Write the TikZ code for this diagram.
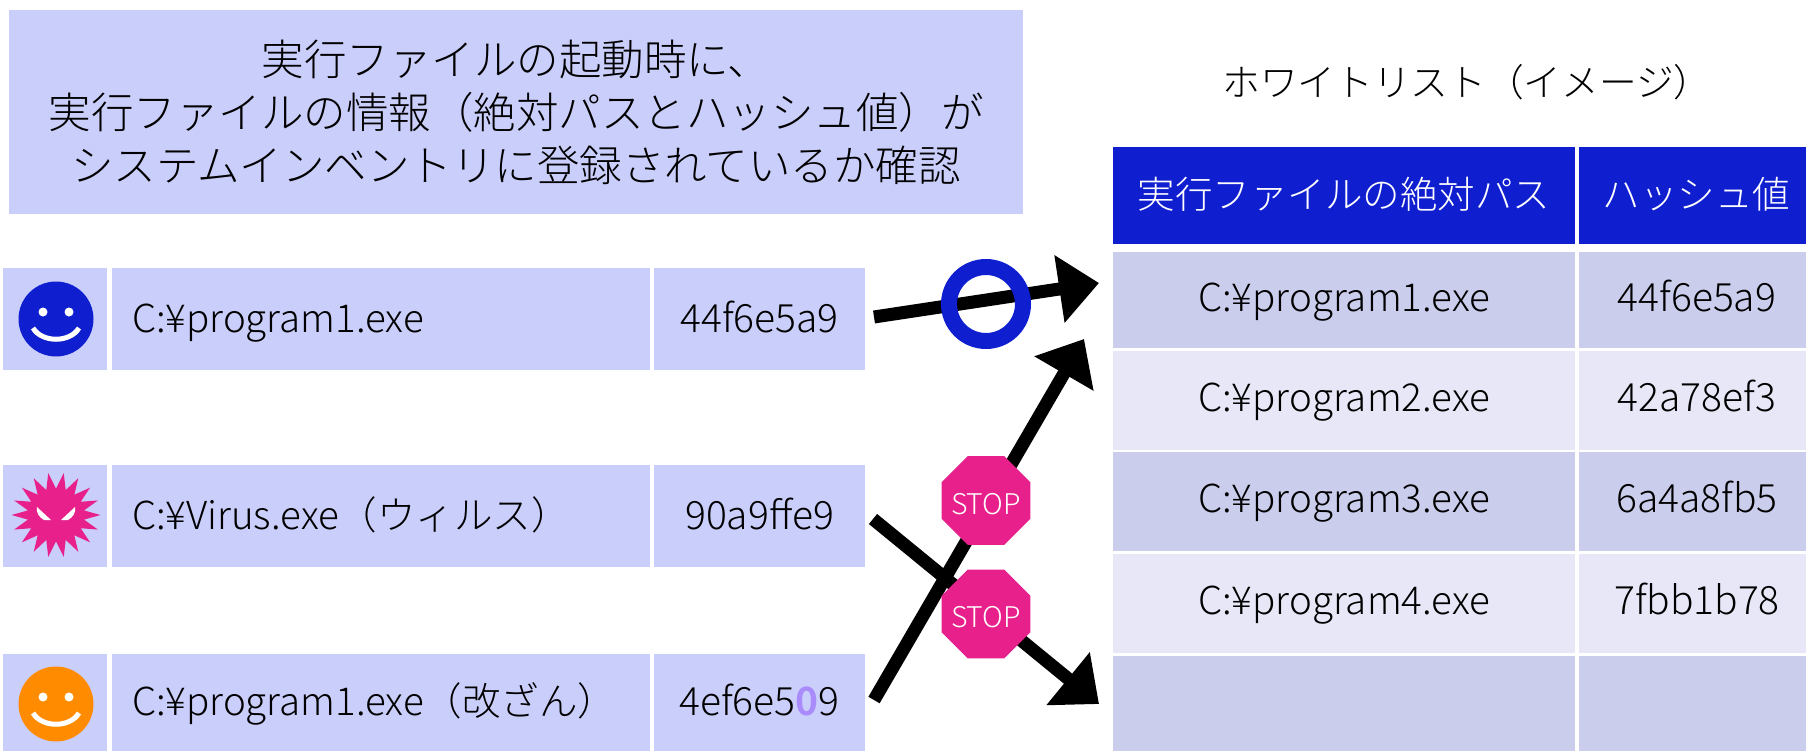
\documentclass[tikz,border=0pt]{standalone}
\usepackage{fontspec}
\setmainfont{Noto Sans CJK JP}[UprightFont=* Light,BoldFont=* Bold]
\usetikzlibrary{arrows.meta,shapes.geometric}
\definecolor{lightcell}{HTML}{CACEFA}
\definecolor{rowdark}{HTML}{CBCDEC}
\definecolor{rowlight}{HTML}{E7E7F7}
\definecolor{headblue}{HTML}{0F1FD0}
\definecolor{stoppink}{HTML}{E8208B}
\definecolor{faceorange}{HTML}{FF8C00}
\definecolor{altered}{HTML}{A98BFB}
\tikzset{
  x=1pt,y=-1pt,
  cellbox/.style={anchor=north west,inner sep=0pt,outer sep=0pt,draw=none,text=black},
  leftcell/.style={cellbox,fill=lightcell,text height=35pt,text depth=9pt},
  rowcell/.style={cellbox,text height=31pt,text depth=9pt,align=center},
  headcell/.style={cellbox,fill=headblue,text=white,text height=35pt,text depth=9pt,align=center,font=\fontsize{37.5}{42}\selectfont},
  pathfont/.style={font=\fontsize{38.5}{42}\selectfont},
  hashfont/.style={font=\fontsize{39}{42}\selectfont},
  heavyarrow/.style={line width=13pt,draw=black},
  stopsign/.style={regular polygon,regular polygon sides=8,minimum size=96pt,inner sep=0pt,fill=stoppink},
  stoplabel/.style={text=white,inner sep=0pt,yshift=-3.5pt,font=\fontsize{28.5}{30}\selectfont},
}
\newcommand{\smileface}[3]{%
  \fill[#1] (#2,#3) circle[radius=37.5];
  \fill[white] (#2-13,#3-7) circle[radius=4.5] (#2+13,#3-7) circle[radius=4.5];
  \draw[white,line width=5pt] (#2-23,#3+9) .. controls (#2-14,#3+24) and (#2+14,#3+24) .. (#2+23,#3+9);
}
\begin{document}
\begin{tikzpicture}
\useasboundingbox (0,0) rectangle (1806,751);
% title
\node[cellbox,fill=lightcell,minimum width=1014pt,minimum height=204pt,align=center,font=\fontsize{42.5}{53}\selectfont] (title) at (9,10) {実行ファイルの起動時に、\\実行ファイルの情報（絶対パスとハッシュ値）が\\システムインベントリに登録されているか確認};
\node[font=\fontsize{37.7}{42}\selectfont] (wltitle) at (1467,82) {ホワイトリスト（イメージ）};
% left rows
\foreach \nm/\yy/\hh/\pth/\hsh in {a/268/102/C:¥program1.exe/44f6e5a9,
  b/465/102/C:¥Virus.exe（ウィルス）/90a9ffe9,
  c/654/97/C:¥program1.exe（改ざん）/{4ef6e5{\bfseries\color{altered}0}9}}{
  \node[cellbox,fill=lightcell,minimum width=104pt,minimum height=\hh pt] (\nm icon) at (3,\yy) {};
  \node[leftcell,pathfont,minimum width=538pt,minimum height=\hh pt,text width=538pt,align=left] (\nm path) at (112,\yy) {\hspace*{20pt}\pth};
  \node[leftcell,hashfont,minimum width=211pt,minimum height=\hh pt,align=center] (\nm hash) at (654,\yy) {\hsh};
}
% table
\node[headcell,minimum width=462pt,minimum height=97pt] (h1) at (1113,147) {実行ファイルの絶対パス};
\node[headcell,minimum width=227pt,minimum height=97pt,text width=227pt] (h2) at (1579,147) {\hspace*{8pt}ハッシュ値};
\foreach \nm/\yy/\hh/\col/\pth/\hsh in {r1/252/96/rowdark/C:¥program1.exe/44f6e5a9,
  r2/351/99/rowlight/C:¥program2.exe/42a78ef3,
  r3/452/99/rowdark/C:¥program3.exe/6a4a8fb5,
  r4/554/99/rowlight/C:¥program4.exe/7fbb1b78,
  r5/656/95/rowdark//}{
  \node[rowcell,fill=\col,pathfont,minimum width=462pt,minimum height=\hh pt] (\nm p) at (1113,\yy) {\pth};
  \node[rowcell,fill=\col,hashfont,minimum width=227pt,minimum height=\hh pt] (\nm h) at (1579,\yy) {\hspace*{9pt}\hsh};
}
% icons
\smileface{headblue}{56}{319}
\smileface{faceorange}{56}{704}
\fill[stoppink] plot[samples at={0,10,...,350},variable=\t] ({56+(44.5-8*(1-cos(18*\t)))*cos(\t)},{515+(42.5-8*(1-cos(18*\t)))*sin(\t)}) -- cycle;
\fill[white] (37,507) -- (51,520) -- (44,520) .. controls (39,517) and (36,513) .. (37,507) -- cycle;
\fill[white] (75,507) -- (61,520) -- (68,520) .. controls (73,517) and (76,513) .. (75,507) -- cycle;
% connectors
\coordinate (s1) at (874,317);
\coordinate (t1) at (1099,283);
\coordinate (s2) at (874,700);
\coordinate (t2) at (1084,339);
\coordinate (s3) at (873,519);
\coordinate (t3) at (1099,704);
\draw[heavyarrow,-{Triangle[length=40pt,width=66pt]}] (s1) -- (t1);
\draw[heavyarrow,-{Triangle[length=40pt,width=66pt]}] (s2) -- (t2);
\draw[heavyarrow,-{Triangle[length=40pt,width=66pt]}] (s3) -- (t3);
\node[circle,draw=headblue,line width=16pt,minimum size=74pt,inner sep=0pt] (okring) at (986,304) {};
\node[stopsign] (stop1) at (986,500.5) {};
\node[stoplabel] (stoptext1) at (stop1) {STOP};
\node[stopsign] (stop2) at (986,614) {};
\node[stoplabel] (stoptext2) at (stop2) {STOP};
\end{tikzpicture}
\end{document}
